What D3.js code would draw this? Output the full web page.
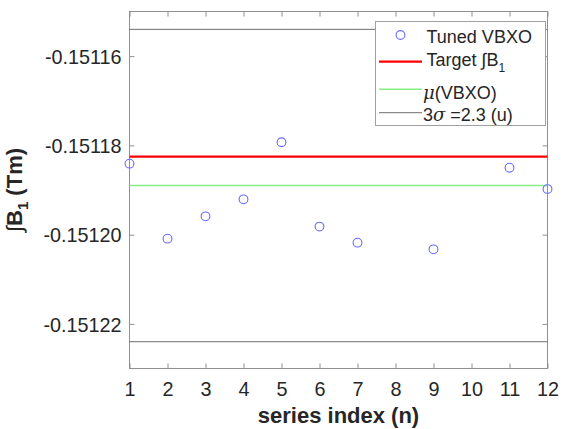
<!DOCTYPE html>
<html>
<head>
<meta charset="utf-8">
<script src="https://cdn.jsdelivr.net/npm/d3@7"></script>
<style>
body { margin: 0; background: #fff; }
text { font-family: "Liberation Sans", Arial, sans-serif; fill: #262626; }
</style>
</head>
<body>
<script>
var w = 570
var h = 429

// data
var seriesIndex = [1, 2, 3, 4, 5, 6, 7, 9, 11, 12]
var tunedVBXO = [-0.1511841, -0.1512009, -0.1511959, -0.1511921, -0.1511793,
                 -0.1511982, -0.1512018, -0.1512033, -0.1511850, -0.1511898]
var targetB1 = -0.1511825
var meanVBXO = -0.151189
var sigmaBand = [-0.151154, -0.151224] // mu +/- 3 sigma
var xTicks = [1, 2, 3, 4, 5, 6, 7, 8, 9, 10, 11, 12]
var yTicks = [-0.15116, -0.15118, -0.15120, -0.15122]

// plot box (window.top is reserved, so other names)
var pLeft = 129.5, pRight = 547.5, pTop = 11.5, pBottom = 368.5

var svg = d3.select("body")
            .append("svg")
            .attr("width", w)
            .attr("height", h)

var x = d3.scaleLinear().domain([1, 12]).range([pLeft, pRight])
var y = d3.scaleLinear().domain([-0.15123, -0.15115]).range([pBottom, pTop])

// ticks pointing inward on all four sides
var tickLen = 5
var axisColor = "#909090"
svg.append("g")
  .attr("transform", "translate(0," + pBottom + ")")
  .call(d3.axisBottom(x).tickValues(xTicks).tickSizeInner(-tickLen).tickSizeOuter(0).tickFormat(d3.format("d")))
  .call(function(g) {
    g.select(".domain").remove()
    g.selectAll("line").attr("stroke", axisColor)
    g.selectAll("text").attr("font-size", "19.8px").attr("fill", "#262626").attr("dy", null).attr("y", 27)
  })
svg.append("g")
  .attr("transform", "translate(0," + pTop + ")")
  .call(d3.axisTop(x).tickValues(xTicks).tickSizeInner(-tickLen).tickSizeOuter(0).tickFormat(""))
  .call(function(g) {
    g.select(".domain").remove()
    g.selectAll("line").attr("stroke", axisColor)
  })
svg.append("g")
  .attr("transform", "translate(" + pLeft + ",0)")
  .call(d3.axisLeft(y).tickValues(yTicks).tickSizeInner(-tickLen).tickSizeOuter(0).tickFormat(d3.format(".5f")))
  .call(function(g) {
    g.select(".domain").remove()
    g.selectAll("line").attr("stroke", axisColor)
    g.selectAll("text").attr("font-size", "19.8px").attr("fill", "#262626").attr("x", -8).attr("dy", "0.36em")
      .text(function(d) { return d3.format(".5f")(d).replace("\u2212", "-") })
  })
svg.append("g")
  .attr("transform", "translate(" + pRight + ",0)")
  .call(d3.axisRight(y).tickValues(yTicks).tickSizeInner(-tickLen).tickSizeOuter(0).tickFormat(""))
  .call(function(g) {
    g.select(".domain").remove()
    g.selectAll("line").attr("stroke", axisColor)
  })

// box
svg.append("rect")
  .attr("x", pLeft).attr("y", pTop)
  .attr("width", pRight - pLeft).attr("height", pBottom - pTop)
  .attr("fill", "none").attr("stroke", axisColor).attr("stroke-width", 1)

// reference lines
svg.selectAll(".sigma")
  .data(sigmaBand)
  .enter().append("line")
  .attr("x1", pLeft).attr("x2", pRight)
  .attr("y1", function(d) { return y(d) }).attr("y2", function(d) { return y(d) })
  .attr("stroke", "#6e6e6e").attr("stroke-width", 1)

svg.append("line")
  .attr("x1", pLeft).attr("x2", pRight)
  .attr("y1", y(meanVBXO)).attr("y2", y(meanVBXO))
  .attr("stroke", "#86ee86").attr("stroke-width", 1.5)

svg.append("line")
  .attr("x1", pLeft).attr("x2", pRight)
  .attr("y1", y(targetB1)).attr("y2", y(targetB1))
  .attr("stroke", "#ff0000").attr("stroke-width", 2.2)

// points
svg.selectAll(".pt")
  .data(seriesIndex)
  .enter().append("circle")
  .attr("cx", function(d) { return x(d) })
  .attr("cy", function(d, i) { return y(tunedVBXO[i]) })
  .attr("r", 4.4)
  .attr("fill", "none")
  .attr("stroke", "#6a6aff")
  .attr("stroke-width", 1.1)

// axis labels
svg.append("text")
  .attr("x", (pLeft + pRight) / 2).attr("y", 423)
  .attr("text-anchor", "middle")
  .attr("font-size", "22px").attr("font-weight", "bold")
  .text("series index (n)")

var yl = svg.append("text")
  .attr("transform", "translate(22," + ((pTop + pBottom) / 2) + ") rotate(-90)")
  .attr("text-anchor", "middle")
  .attr("font-size", "22px").attr("font-weight", "bold")
yl.append("tspan").attr("font-weight", "normal").text("\u222B")
yl.append("tspan").text("B")
yl.append("tspan").attr("font-size", "15px").attr("dy", 6).text("1")
yl.append("tspan").attr("dy", -6).text(" (Tm)")

// legend
var lg = svg.append("g")
lg.append("rect")
  .attr("x", 375.5).attr("y", 21.5).attr("width", 170).attr("height", 104)
  .attr("fill", "#fff").attr("stroke", "#a0a0a0").attr("stroke-width", 1)

lg.append("circle").attr("cx", 400.5).attr("cy", 35).attr("r", 4.4)
  .attr("fill", "none").attr("stroke", "#6a6aff").attr("stroke-width", 1.1)
lg.append("line").attr("x1", 379).attr("x2", 422).attr("y1", 61.7).attr("y2", 61.7)
  .attr("stroke", "#ff0000").attr("stroke-width", 2.2)
lg.append("line").attr("x1", 379).attr("x2", 422).attr("y1", 89.3).attr("y2", 89.3)
  .attr("stroke", "#86ee86").attr("stroke-width", 1.5)
lg.append("line").attr("x1", 379).attr("x2", 422).attr("y1", 112.7).attr("y2", 112.7)
  .attr("stroke", "#6e6e6e").attr("stroke-width", 1)

var fs = "18px"
lg.append("text").attr("x", 426.5).attr("y", 43).attr("font-size", fs).text("Tuned VBXO")
var t2 = lg.append("text").attr("x", 426.5).attr("y", 66).attr("font-size", fs)
t2.append("tspan").text("Target \u222BB")
t2.append("tspan").attr("font-size", "12px").attr("dy", 6).text("1")
var t3 = lg.append("text").attr("x", 423).attr("y", 99).attr("font-size", fs)
t3.append("tspan").attr("font-style", "italic").attr("font-family", "'DejaVu Serif', serif").text("\u03BC")
t3.append("tspan").text("(VBXO)")
var t4 = lg.append("text").attr("x", 423).attr("y", 120.5).attr("font-size", fs)
t4.append("tspan").text("3")
t4.append("tspan").attr("font-style", "italic").attr("font-family", "'DejaVu Serif', serif").text("\u03C3")
t4.append("tspan").text(" =2.3 (u)")
</script>
</body>
</html>
